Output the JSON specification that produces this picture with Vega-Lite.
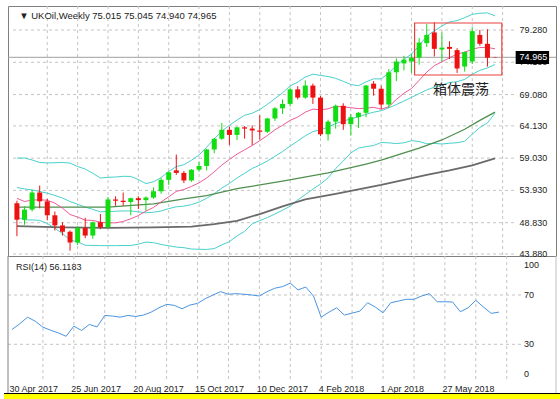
{
  "$schema": "https://vega.github.io/schema/vega-lite/v6.json",
  "background": "#ffffff",
  "padding": {"left": 0, "top": 5, "right": 0, "bottom": 0},
  "bounds": "flush",
  "spacing": 0,
  "config": {
    "view": {"stroke": "#808080", "strokeWidth": 1},
    "font": "Liberation Sans",
    "text": {"font": "Liberation Sans"},
    "axis": {"labelOverlap": false, "labelSeparation": 0}
  },
  "datasets": {
    "bars": [
      {"bar":0,"week":"2017-04-30","open":51.9,"high":52.3,"low":46.7,"close":49.3,"bb_upper":59.04,"bb_mid":54.38,"bb_lower":49.72,"ma10":52.68,"rsi":42.0},
      {"bar":1,"week":"2017-05-07","open":49.3,"high":51.4,"low":48.5,"close":50.9,"bb_upper":59.05,"bb_mid":54.17,"bb_lower":49.28,"ma10":52.18,"rsi":46.6},
      {"bar":2,"week":"2017-05-14","open":50.9,"high":54.0,"low":50.6,"close":53.6,"bb_upper":58.74,"bb_mid":54.01,"bb_lower":49.27,"ma10":52.40,"rsi":52.0},
      {"bar":3,"week":"2017-05-21","open":53.6,"high":54.7,"low":51.1,"close":52.2,"bb_upper":58.34,"bb_mid":53.76,"bb_lower":49.19,"ma10":52.45,"rsi":48.8},
      {"bar":4,"week":"2017-05-28","open":52.2,"high":52.6,"low":49.2,"close":50.0,"bb_upper":58.27,"bb_mid":53.49,"bb_lower":48.71,"ma10":52.37,"rsi":43.9},
      {"bar":5,"week":"2017-06-04","open":50.0,"high":50.6,"low":47.6,"close":48.4,"bb_upper":58.31,"bb_mid":53.14,"bb_lower":47.96,"ma10":51.92,"rsi":41.4},
      {"bar":6,"week":"2017-06-11","open":48.4,"high":48.9,"low":46.8,"close":47.4,"bb_upper":58.35,"bb_mid":52.73,"bb_lower":47.11,"ma10":51.14,"rsi":39.2},
      {"bar":7,"week":"2017-06-18","open":47.4,"high":47.6,"low":44.4,"close":45.7,"bb_upper":58.25,"bb_mid":52.17,"bb_lower":46.10,"ma10":50.12,"rsi":36.5},
      {"bar":8,"week":"2017-06-25","open":45.7,"high":48.3,"low":45.3,"close":48.0,"bb_upper":57.70,"bb_mid":51.74,"bb_lower":45.78,"ma10":49.72,"rsi":44.7},
      {"bar":9,"week":"2017-07-02","open":48.0,"high":49.6,"low":46.4,"close":46.8,"bb_upper":57.31,"bb_mid":51.29,"bb_lower":45.27,"ma10":49.23,"rsi":41.2},
      {"bar":10,"week":"2017-07-09","open":46.8,"high":49.0,"low":46.3,"close":48.9,"bb_upper":56.63,"bb_mid":50.93,"bb_lower":45.24,"ma10":49.19,"rsi":46.1},
      {"bar":11,"week":"2017-07-16","open":48.9,"high":50.2,"low":47.8,"close":48.1,"bb_upper":55.89,"bb_mid":50.54,"bb_lower":45.20,"ma10":48.91,"rsi":44.1},
      {"bar":12,"week":"2017-07-23","open":48.1,"high":52.9,"low":47.9,"close":52.5,"bb_upper":56.00,"bb_mid":50.60,"bb_lower":45.20,"ma10":48.80,"rsi":53.4},
      {"bar":13,"week":"2017-07-30","open":52.5,"high":53.0,"low":51.5,"close":52.3,"bb_upper":56.05,"bb_mid":50.63,"bb_lower":45.20,"ma10":48.81,"rsi":52.9},
      {"bar":14,"week":"2017-08-06","open":52.3,"high":53.6,"low":51.5,"close":52.1,"bb_upper":56.16,"bb_mid":50.69,"bb_lower":45.23,"ma10":49.02,"rsi":52.0},
      {"bar":15,"week":"2017-08-13","open":52.1,"high":52.8,"low":50.0,"close":52.7,"bb_upper":56.14,"bb_mid":50.69,"bb_lower":45.23,"ma10":49.45,"rsi":53.4},
      {"bar":16,"week":"2017-08-20","open":52.7,"high":53.0,"low":51.0,"close":52.4,"bb_upper":55.65,"bb_mid":50.54,"bb_lower":45.43,"ma10":49.95,"rsi":52.6},
      {"bar":17,"week":"2017-08-27","open":52.4,"high":53.0,"low":50.7,"close":52.8,"bb_upper":55.01,"bb_mid":50.39,"bb_lower":45.77,"ma10":50.66,"rsi":53.7},
      {"bar":18,"week":"2017-09-03","open":52.8,"high":54.4,"low":52.6,"close":53.8,"bb_upper":55.29,"bb_mid":50.48,"bb_lower":45.67,"ma10":51.24,"rsi":56.1},
      {"bar":19,"week":"2017-09-10","open":53.8,"high":55.9,"low":53.4,"close":55.6,"bb_upper":55.96,"bb_mid":50.68,"bb_lower":45.39,"ma10":52.12,"rsi":59.6},
      {"bar":20,"week":"2017-09-17","open":55.6,"high":56.9,"low":54.8,"close":56.8,"bb_upper":56.92,"bb_mid":51.05,"bb_lower":45.18,"ma10":52.91,"rsi":62.4},
      {"bar":21,"week":"2017-09-24","open":57.1,"high":59.6,"low":56.4,"close":56.7,"bb_upper":57.70,"bb_mid":51.34,"bb_lower":44.98,"ma10":53.77,"rsi":61.6},
      {"bar":22,"week":"2017-10-01","open":56.7,"high":57.0,"low":55.1,"close":55.5,"bb_upper":57.99,"bb_mid":51.44,"bb_lower":44.88,"ma10":54.07,"rsi":58.8},
      {"bar":23,"week":"2017-10-08","open":55.5,"high":57.3,"low":55.3,"close":57.2,"bb_upper":58.70,"bb_mid":51.69,"bb_lower":44.67,"ma10":54.56,"rsi":61.8},
      {"bar":24,"week":"2017-10-15","open":57.2,"high":58.5,"low":56.9,"close":57.8,"bb_upper":59.53,"bb_mid":52.08,"bb_lower":44.63,"ma10":55.13,"rsi":63.2},
      {"bar":25,"week":"2017-10-22","open":57.8,"high":60.5,"low":57.1,"close":60.4,"bb_upper":60.75,"bb_mid":52.68,"bb_lower":44.60,"ma10":55.90,"rsi":67.0},
      {"bar":26,"week":"2017-10-29","open":60.4,"high":62.2,"low":59.8,"close":62.1,"bb_upper":62.08,"bb_mid":53.41,"bb_lower":44.74,"ma10":56.87,"rsi":70.0},
      {"bar":27,"week":"2017-11-05","open":62.1,"high":64.6,"low":61.9,"close":63.5,"bb_upper":63.28,"bb_mid":54.30,"bb_lower":45.32,"ma10":57.94,"rsi":72.7},
      {"bar":28,"week":"2017-11-12","open":63.5,"high":64.0,"low":61.1,"close":62.7,"bb_upper":64.23,"bb_mid":55.04,"bb_lower":45.84,"ma10":58.83,"rsi":70.6},
      {"bar":29,"week":"2017-11-19","open":62.7,"high":64.0,"low":61.9,"close":63.9,"bb_upper":65.04,"bb_mid":55.89,"bb_lower":46.74,"ma10":59.66,"rsi":71.1},
      {"bar":30,"week":"2017-11-26","open":63.9,"high":64.1,"low":62.1,"close":63.7,"bb_upper":65.80,"bb_mid":56.63,"bb_lower":47.46,"ma10":60.35,"rsi":70.6},
      {"bar":31,"week":"2017-12-03","open":63.7,"high":64.2,"low":61.1,"close":63.4,"bb_upper":66.13,"bb_mid":57.40,"bb_lower":48.66,"ma10":61.02,"rsi":70.0},
      {"bar":32,"week":"2017-12-10","open":63.4,"high":65.8,"low":62.0,"close":63.2,"bb_upper":66.71,"bb_mid":57.93,"bb_lower":49.15,"ma10":61.79,"rsi":69.2},
      {"bar":33,"week":"2017-12-17","open":63.2,"high":65.4,"low":63.0,"close":65.3,"bb_upper":67.52,"bb_mid":58.58,"bb_lower":49.64,"ma10":62.60,"rsi":72.7},
      {"bar":34,"week":"2017-12-24","open":65.3,"high":67.1,"low":64.9,"close":66.9,"bb_upper":68.44,"bb_mid":59.32,"bb_lower":50.20,"ma10":63.51,"rsi":75.5},
      {"bar":35,"week":"2017-12-31","open":66.9,"high":68.3,"low":66.0,"close":67.6,"bb_upper":69.34,"bb_mid":60.07,"bb_lower":50.80,"ma10":64.23,"rsi":76.8},
      {"bar":36,"week":"2018-01-07","open":67.6,"high":70.2,"low":67.2,"close":69.9,"bb_upper":70.45,"bb_mid":60.94,"bb_lower":51.43,"ma10":65.01,"rsi":79.6},
      {"bar":37,"week":"2018-01-14","open":69.9,"high":70.4,"low":68.3,"close":68.6,"bb_upper":71.03,"bb_mid":61.73,"bb_lower":52.43,"ma10":65.52,"rsi":74.1},
      {"bar":38,"week":"2018-01-21","open":68.6,"high":71.3,"low":68.4,"close":70.5,"bb_upper":71.86,"bb_mid":62.57,"bb_lower":53.27,"ma10":66.30,"rsi":76.5},
      {"bar":39,"week":"2018-01-28","open":70.5,"high":70.8,"low":67.6,"close":68.6,"bb_upper":72.29,"bb_mid":63.22,"bb_lower":54.14,"ma10":66.77,"rsi":69.2},
      {"bar":40,"week":"2018-02-04","open":68.6,"high":68.9,"low":62.5,"close":62.8,"bb_upper":72.11,"bb_mid":63.52,"bb_lower":54.92,"ma10":66.68,"rsi":52.0},
      {"bar":41,"week":"2018-02-11","open":62.8,"high":65.1,"low":61.8,"close":64.8,"bb_upper":71.93,"bb_mid":63.92,"bb_lower":55.91,"ma10":66.82,"rsi":56.1},
      {"bar":42,"week":"2018-02-18","open":64.8,"high":67.5,"low":63.7,"close":67.3,"bb_upper":71.64,"bb_mid":64.51,"bb_lower":57.38,"ma10":67.23,"rsi":59.6},
      {"bar":43,"week":"2018-02-25","open":67.3,"high":67.7,"low":63.5,"close":64.4,"bb_upper":71.17,"bb_mid":64.87,"bb_lower":58.57,"ma10":67.14,"rsi":53.7},
      {"bar":44,"week":"2018-03-04","open":64.4,"high":66.0,"low":62.6,"close":65.5,"bb_upper":70.66,"bb_mid":65.26,"bb_lower":59.85,"ma10":67.00,"rsi":55.3},
      {"bar":45,"week":"2018-03-11","open":65.5,"high":66.3,"low":63.8,"close":66.2,"bb_upper":70.48,"bb_mid":65.55,"bb_lower":60.61,"ma10":66.86,"rsi":56.9},
      {"bar":46,"week":"2018-03-18","open":66.2,"high":70.6,"low":65.5,"close":70.5,"bb_upper":71.08,"bb_mid":65.97,"bb_lower":60.85,"ma10":66.92,"rsi":63.7},
      {"bar":47,"week":"2018-03-25","open":70.8,"high":71.2,"low":68.9,"close":70.0,"bb_upper":71.56,"bb_mid":66.29,"bb_lower":61.02,"ma10":67.06,"rsi":60.2},
      {"bar":48,"week":"2018-04-01","open":70.0,"high":70.5,"low":66.8,"close":67.5,"bb_upper":71.55,"bb_mid":66.53,"bb_lower":61.51,"ma10":66.76,"rsi":55.6},
      {"bar":49,"week":"2018-04-08","open":67.5,"high":73.1,"low":67.0,"close":72.6,"bb_upper":72.49,"bb_mid":66.97,"bb_lower":61.45,"ma10":67.16,"rsi":63.7},
      {"bar":50,"week":"2018-04-15","open":72.6,"high":74.8,"low":71.2,"close":74.3,"bb_upper":73.66,"bb_mid":67.50,"bb_lower":61.33,"ma10":68.31,"rsi":65.1},
      {"bar":51,"week":"2018-04-22","open":74.0,"high":75.2,"low":72.9,"close":74.6,"bb_upper":74.65,"bb_mid":68.06,"bb_lower":61.46,"ma10":69.29,"rsi":66.5},
      {"bar":52,"week":"2018-04-29","open":74.3,"high":75.5,"low":72.5,"close":74.9,"bb_upper":75.48,"bb_mid":68.64,"bb_lower":61.80,"ma10":70.05,"rsi":66.5},
      {"bar":53,"week":"2018-05-06","open":74.9,"high":78.0,"low":73.8,"close":77.3,"bb_upper":76.81,"bb_mid":69.23,"bb_lower":61.65,"ma10":71.32,"rsi":69.2},
      {"bar":54,"week":"2018-05-13","open":77.2,"high":80.2,"low":76.6,"close":78.5,"bb_upper":78.31,"bb_mid":69.81,"bb_lower":61.31,"ma10":72.62,"rsi":71.1},
      {"bar":55,"week":"2018-05-20","open":78.9,"high":80.5,"low":75.1,"close":76.3,"bb_upper":79.15,"bb_mid":70.25,"bb_lower":61.35,"ma10":73.64,"rsi":64.5},
      {"bar":56,"week":"2018-05-27","open":76.2,"high":78.9,"low":74.3,"close":76.5,"bb_upper":79.90,"bb_mid":70.59,"bb_lower":61.27,"ma10":74.25,"rsi":64.5},
      {"bar":57,"week":"2018-06-03","open":76.6,"high":77.5,"low":74.7,"close":76.3,"bb_upper":80.57,"bb_mid":70.98,"bb_lower":61.38,"ma10":74.89,"rsi":64.3},
      {"bar":58,"week":"2018-06-10","open":76.1,"high":76.4,"low":72.5,"close":73.2,"bb_upper":80.76,"bb_mid":71.12,"bb_lower":61.47,"ma10":75.47,"rsi":56.4},
      {"bar":59,"week":"2018-06-17","open":73.5,"high":75.9,"low":72.7,"close":75.8,"bb_upper":81.23,"bb_mid":71.47,"bb_lower":61.70,"ma10":75.77,"rsi":59.6},
      {"bar":60,"week":"2018-06-24","open":74.3,"high":79.7,"low":73.9,"close":79.1,"bb_upper":81.75,"bb_mid":72.29,"bb_lower":62.82,"ma10":76.26,"rsi":65.7},
      {"bar":61,"week":"2018-07-01","open":78.5,"high":79.3,"low":76.8,"close":77.1,"bb_upper":81.93,"bb_mid":72.90,"bb_lower":63.87,"ma10":76.51,"rsi":60.2},
      {"bar":62,"week":"2018-07-08","open":77.1,"high":79.4,"low":73.5,"close":74.9,"bb_upper":81.98,"bb_mid":73.29,"bb_lower":64.60,"ma10":76.52,"rsi":55.1},
      {"bar":63,"week":"2018-07-15","open":75.015,"high":75.045,"low":74.94,"close":74.965,"bb_upper":81.51,"bb_mid":73.82,"bb_lower":66.12,"ma10":76.31,"rsi":56.1183}
    ],
    "ma50": [
      {"bar":0,"value":51.3},{"bar":6,"value":51.3},{"bar":12,"value":51.3},{"bar":18,"value":51.8},
      {"bar":22,"value":52.6},{"bar":25,"value":53.1},{"bar":29,"value":54.2},{"bar":35,"value":55.4},
      {"bar":41,"value":56.7},{"bar":46,"value":58.1},{"bar":48,"value":58.7},{"bar":53,"value":60.6},
      {"bar":56,"value":61.9},{"bar":59,"value":63.6},{"bar":61,"value":65.0},{"bar":63,"value":66.3}
    ],
    "ma100": [
      {"bar":0,"value":48.3},{"bar":6,"value":48.1},{"bar":12,"value":48.0},{"bar":18,"value":48.1},
      {"bar":23,"value":48.2},{"bar":26,"value":48.6},{"bar":29,"value":49.1},{"bar":32,"value":50.2},
      {"bar":35,"value":51.4},{"bar":38,"value":52.5},{"bar":42,"value":53.4},{"bar":45,"value":54.1},
      {"bar":48,"value":54.8},{"bar":51,"value":55.6},{"bar":54,"value":56.4},{"bar":57,"value":57.1},
      {"bar":60,"value":57.9},{"bar":63,"value":59.0}
    ],
    "price_grid": [
      {"price":43.88},{"price":48.83},{"price":53.93},{"price":59.03},
      {"price":64.13},{"price":69.08},{"price":74.18},{"price":79.28}
    ],
    "week_grid": [
      {"bar":4},{"bar":8},{"bar":12},{"bar":16},{"bar":20},{"bar":24},{"bar":28},{"bar":32},
      {"bar":36},{"bar":40},{"bar":44},{"bar":48},{"bar":52},{"bar":56},{"bar":60},{"bar":64}
    ],
    "rsi_levels": [{"level":30},{"level":70}]
  },
  "vconcat": [
    {
      "width": 548,
      "height": 250,
      "layer": [
        {
          "data": {"name": "price_grid"},
          "mark": {"type": "rule", "color": "#c4c4c4", "strokeDash": [3, 3], "strokeWidth": 1},
          "encoding": {
            "y": {"field": "price", "type": "quantitative", "title": null,
                  "scale": {"domain": [43.566, 83.073], "nice": false, "zero": false}, "axis": null},
            "x": {"datum": -0.517, "type": "quantitative",
                  "scale": {"domain": [-0.517, 70.375], "nice": false, "zero": false}, "axis": null},
            "x2": {"datum": 65.85}
          }
        },
        {
          "data": {"name": "price_grid"},
          "mark": {"type": "text", "fontSize": 9, "color": "#222222", "align": "left", "baseline": "middle"},
          "encoding": {
            "y": {"field": "price", "type": "quantitative", "axis": null},
            "x": {"datum": 66.24, "type": "quantitative", "axis": null},
            "text": {"field": "price", "type": "quantitative", "format": ".3f"}
          }
        },
        {
          "data": {"name": "week_grid"},
          "mark": {"type": "rule", "color": "#c4c4c4", "strokeDash": [3, 3], "strokeWidth": 1},
          "encoding": {
            "x": {"field": "bar", "type": "quantitative", "axis": null}
          }
        },
        {
          "data": {"values": [{"price": 74.965}]},
          "mark": {"type": "rule", "color": "#a0a0a0", "strokeWidth": 1},
          "encoding": {
            "y": {"field": "price", "type": "quantitative", "axis": null}
          }
        },
        {
          "data": {"name": "bars"},
          "mark": {"type": "line", "color": "#48d1cc", "strokeWidth": 1},
          "encoding": {
            "x": {"field": "bar", "type": "quantitative", "axis": null},
            "y": {"field": "bb_upper", "type": "quantitative", "axis": null}
          }
        },
        {
          "data": {"name": "bars"},
          "mark": {"type": "line", "color": "#48d1cc", "strokeWidth": 1},
          "encoding": {
            "x": {"field": "bar", "type": "quantitative", "axis": null},
            "y": {"field": "bb_mid", "type": "quantitative", "axis": null}
          }
        },
        {
          "data": {"name": "bars"},
          "mark": {"type": "line", "color": "#48d1cc", "strokeWidth": 1},
          "encoding": {
            "x": {"field": "bar", "type": "quantitative", "axis": null},
            "y": {"field": "bb_lower", "type": "quantitative", "axis": null}
          }
        },
        {
          "data": {"name": "ma100"},
          "mark": {"type": "line", "color": "#6a6a6a", "strokeWidth": 1.8},
          "encoding": {
            "x": {"field": "bar", "type": "quantitative", "axis": null},
            "y": {"field": "value", "type": "quantitative", "axis": null}
          }
        },
        {
          "data": {"name": "ma50"},
          "mark": {"type": "line", "color": "#4f8f4f", "strokeWidth": 1.3},
          "encoding": {
            "x": {"field": "bar", "type": "quantitative", "axis": null},
            "y": {"field": "value", "type": "quantitative", "axis": null}
          }
        },
        {
          "data": {"name": "bars"},
          "mark": {"type": "line", "color": "#ee5a9a", "strokeWidth": 1},
          "encoding": {
            "x": {"field": "bar", "type": "quantitative", "axis": null},
            "y": {"field": "ma10", "type": "quantitative", "axis": null}
          }
        },
        {
          "data": {"name": "bars"},
          "mark": {"type": "rule", "strokeWidth": 1},
          "encoding": {
            "x": {"field": "bar", "type": "quantitative", "axis": null},
            "y": {"field": "low", "type": "quantitative", "axis": null},
            "y2": {"field": "high"},
            "color": {"condition": {"test": "datum.close >= datum.open", "value": "#12dc12"}, "value": "#ee1111"}
          }
        },
        {
          "data": {"name": "bars"},
          "mark": {"type": "bar", "size": 5},
          "encoding": {
            "x": {"field": "bar", "type": "quantitative", "axis": null},
            "y": {"field": "open", "type": "quantitative", "axis": null},
            "y2": {"field": "close"},
            "color": {"condition": {"test": "datum.close >= datum.open", "value": "#12dc12"}, "value": "#ee1111"}
          }
        },
        {
          "data": {"values": [{"label": "box"}]},
          "mark": {"type": "rect", "fillOpacity": 0, "stroke": "#e8403c", "strokeWidth": 1.2},
          "encoding": {
            "x": {"datum": 52.4, "type": "quantitative", "axis": null},
            "x2": {"datum": 63.9},
            "y": {"datum": 80.39, "type": "quantitative", "axis": null},
            "y2": {"datum": 72.17}
          }
        },
        {
          "data": {"values": [{"label": "箱体震荡"}]},
          "mark": {"type": "text", "font": "Noto Sans CJK SC", "fontSize": 14, "color": "#222222", "align": "center", "baseline": "middle"},
          "encoding": {
            "x": {"datum": 58.5, "type": "quantitative", "axis": null},
            "y": {"datum": 69.8, "type": "quantitative", "axis": null},
            "text": {"field": "label"}
          }
        },
        {
          "data": {"values": [{"label": "▼ UKOil,Weekly  75.015 75.045 74.940 74.965"}]},
          "mark": {"type": "text", "fontSize": 9.5, "color": "#222222", "align": "left", "baseline": "middle"},
          "encoding": {
            "x": {"datum": 0.3, "type": "quantitative", "axis": null},
            "y": {"datum": 81.5, "type": "quantitative", "axis": null},
            "text": {"field": "label"}
          }
        },
        {
          "data": {"values": [{"label": "74.965"}]},
          "mark": {"type": "rect", "color": "#000000"},
          "encoding": {
            "x": {"datum": 65.72, "type": "quantitative", "axis": null},
            "x2": {"datum": 70.12},
            "y": {"datum": 75.96, "type": "quantitative", "axis": null},
            "y2": {"datum": 73.91}
          }
        },
        {
          "data": {"values": [{"label": "74.965"}]},
          "mark": {"type": "text", "fontSize": 9, "color": "#ffffff", "align": "left", "baseline": "middle"},
          "encoding": {
            "x": {"datum": 66.24, "type": "quantitative", "axis": null},
            "y": {"datum": 74.965, "type": "quantitative", "axis": null},
            "text": {"field": "label"}
          }
        }
      ]
    },
    {
      "width": 548,
      "height": 144,
      "view": {"stroke": null},
      "layer": [
        {
          "data": {"name": "week_grid"},
          "mark": {"type": "rule", "color": "#c4c4c4", "strokeDash": [3, 3], "strokeWidth": 1},
          "encoding": {
            "x": {"field": "bar", "type": "quantitative", "title": null,
                  "scale": {"domain": [-0.517, 70.375], "nice": false, "zero": false},
                  "axis": {"orient": "bottom", "title": null, "values": [0, 8, 16, 24, 32, 40, 48, 56],
                           "labelExpr": "['30 Apr 2017','25 Jun 2017','20 Aug 2017','15 Oct 2017','10 Dec 2017','4 Feb 2018','1 Apr 2018','27 May 2018'][datum.value / 8]",
                           "labelAlign": "left", "labelBaseline": "middle", "labelPadding": -12, "labelOffset": -3,
                           "ticks": false, "tickSize": 0,
                           "domain": false, "grid": false, "labelFontSize": 9, "labelColor": "#222222",
                           "labelFont": "Liberation Sans", "labelBound": false, "labelOverlap": false, "labelFlush": false}},
            "y": {"datum": 101.64, "type": "quantitative", "axis": null,
                  "scale": {"domain": [-15.19, 101.64], "nice": false, "zero": false}},
            "y2": {"datum": -0.59}
          }
        },
        {
          "data": {"name": "rsi_levels"},
          "mark": {"type": "rule", "color": "#c4c4c4", "strokeDash": [3, 3], "strokeWidth": 1},
          "encoding": {
            "y": {"field": "level", "type": "quantitative", "axis": null},
            "x": {"datum": -0.517, "type": "quantitative", "title": null},
            "x2": {"datum": 65.85}
          }
        },
        {
          "data": {"values": [{"level": 30}, {"level": 70}]},
          "mark": {"type": "text", "fontSize": 9, "color": "#222222", "align": "left", "baseline": "middle"},
          "encoding": {
            "y": {"field": "level", "type": "quantitative", "axis": null},
            "x": {"datum": 66.24, "type": "quantitative", "title": null},
            "text": {"field": "level", "type": "quantitative"}
          }
        },
        {
          "data": {"values": [{"level": 100}]},
          "mark": {"type": "text", "fontSize": 9, "color": "#222222", "align": "left", "baseline": "middle", "dy": 7},
          "encoding": {
            "y": {"field": "level", "type": "quantitative", "axis": null},
            "x": {"datum": 66.24, "type": "quantitative", "title": null},
            "text": {"field": "level", "type": "quantitative"}
          }
        },
        {
          "data": {"values": [{"level": 0}]},
          "mark": {"type": "text", "fontSize": 9, "color": "#222222", "align": "left", "baseline": "middle", "dy": -7},
          "encoding": {
            "y": {"field": "level", "type": "quantitative", "axis": null},
            "x": {"datum": 66.24, "type": "quantitative", "title": null},
            "text": {"field": "level", "type": "quantitative"}
          }
        },
        {
          "data": {"name": "bars"},
          "mark": {"type": "line", "color": "#4a94e0", "strokeWidth": 1},
          "encoding": {
            "x": {"field": "bar", "type": "quantitative", "title": null},
            "y": {"field": "rsi", "type": "quantitative", "axis": null}
          }
        },
        {
          "data": {"values": [{"label": "RSI(14) 56.1183"}]},
          "mark": {"type": "text", "fontSize": 9, "color": "#222222", "align": "left", "baseline": "middle"},
          "encoding": {
            "x": {"datum": 0.52, "type": "quantitative", "title": null},
            "y": {"datum": 93.0, "type": "quantitative", "axis": null},
            "text": {"field": "label"}
          }
        },
        {
          "data": {"values": [{"edge": "left"}]},
          "mark": {"type": "rule", "color": "#808080", "strokeWidth": 1},
          "encoding": {
            "x": {"datum": -0.517, "type": "quantitative", "title": null},
            "y": {"datum": 101.64, "type": "quantitative", "axis": null},
            "y2": {"datum": -9.6}
          }
        },
        {
          "data": {"values": [{"edge": "right"}]},
          "mark": {"type": "rule", "color": "#c0c0c0", "strokeWidth": 1},
          "encoding": {
            "x": {"datum": 70.375, "type": "quantitative", "title": null},
            "y": {"datum": 101.64, "type": "quantitative", "axis": null},
            "y2": {"datum": -9.6}
          }
        },
        {
          "data": {"values": [{"label": "status strip"}]},
          "mark": {"type": "rule", "color": "#ffff00", "strokeWidth": 6},
          "encoding": {
            "x": {"datum": -1.035, "type": "quantitative", "title": null},
            "x2": {"datum": 71.41},
            "y": {"datum": -12.76, "type": "quantitative", "axis": null}
          }
        },
        {
          "data": {"values": [{"edge": "bottom"}]},
          "mark": {"type": "rule", "color": "#000000", "strokeWidth": 1},
          "encoding": {
            "x": {"datum": -1.035, "type": "quantitative", "title": null},
            "x2": {"datum": 71.41},
            "y": {"datum": -9.92, "type": "quantitative", "axis": null}
          }
        }
      ]
    }
  ]
}
